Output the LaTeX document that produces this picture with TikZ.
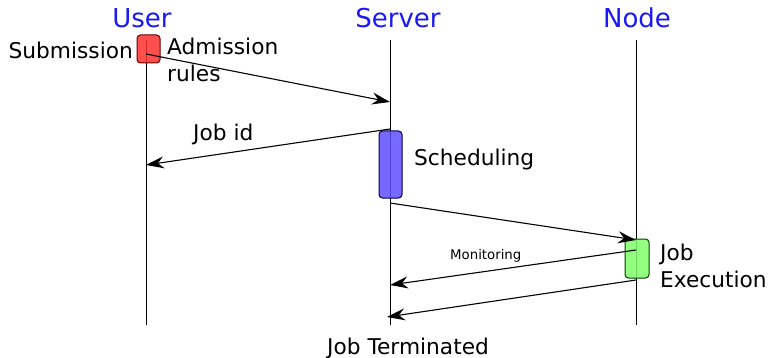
\documentclass[tikz,border=0pt]{standalone}
\usepackage{fontspec}
\setmainfont{DejaVu Sans}
\usetikzlibrary{arrows.meta}
\definecolor{actred}{HTML}{FF3030}
\definecolor{actblue}{HTML}{5F4DFF}
\definecolor{actgreen}{HTML}{80FF6A}
\definecolor{titleblue}{HTML}{1A1AF0}
\begin{document}
\begin{tikzpicture}[x=1pt,y=-1pt,
  lbl/.style={font=\fontsize{21.7}{27}\selectfont, inner sep=0pt, anchor=base west},
  actor/.style={font=\fontsize{26}{30}\selectfont, text=titleblue, inner sep=0pt, anchor=base},
  life/.style={draw=black, line width=1pt},
  msg/.style={draw=black, line width=1.1pt, -{Stealth[length=18pt,width=12pt,inset=6pt]}},
  act/.style={rounded corners=3.5pt, line width=1pt, fill opacity=0.85}]
\useasboundingbox (0,0) rectangle (770,358);

% actor headings
\node[actor] (user) at (142,28) {User};
\node[actor] (server) at (398,28) {Server};
\node[actor] (node) at (637,28) {Node};

% lifelines
\coordinate (uTop) at (146,40);  \coordinate (uBot) at (146,325);
\coordinate (sTop) at (390,40);  \coordinate (sBot) at (390,325);
\coordinate (nTop) at (636,40);  \coordinate (nBot) at (636,325);
\draw[life] (uTop) -- (uBot);
\draw[life] (sTop) -- (sBot);
\draw[life] (nTop) -- (nBot);

% activation boxes
\filldraw[act, fill=actred, draw=red!40!black] (137,35) rectangle (160,63);
\filldraw[act, fill=actblue, draw=blue!30!black] (379,131) rectangle (402,198);
\filldraw[act, fill=actgreen, draw=green!25!black] (625,239) rectangle (649,278);

% message end points
\coordinate (m1a) at (146,54);   \coordinate (m1b) at (390,102);
\coordinate (m2a) at (390,129);  \coordinate (m2b) at (146,165);
\coordinate (m3a) at (390,203);  \coordinate (m3b) at (636,240);
\coordinate (m4a) at (636,250);  \coordinate (m4b) at (390,285);
\coordinate (m5a) at (636,280);  \coordinate (m5b) at (387,317);

\draw[msg] (m1a) -- (m1b);
\draw[msg] (m2a) -- (m2b);
\draw[msg] (m3a) -- (m3b);
\draw[msg] (m4a) -- (m4b);
\draw[msg] (m5a) -- (m5b);

% labels
\node[lbl, anchor=base east] (sub) at (133,59) {Submission};
\node[lbl] (adm) at (167,55) {Admission};
\node[lbl] (rul) at (167,82) {rules};
\node[lbl] (jid) at (193,141) {Job id};
\node[lbl] (sch) at (414,165) {Scheduling};
\node[lbl] (job) at (660,260) {Job};
\node[lbl] (exe) at (660,287) {Execution};
\node[inner sep=0pt, anchor=base west, font=\fontsize{13.3}{16}\selectfont] (mon) at (450,259) {Monitoring};
\node[lbl] (term) at (327,354) {Job Terminated};
\end{tikzpicture}
\end{document}
